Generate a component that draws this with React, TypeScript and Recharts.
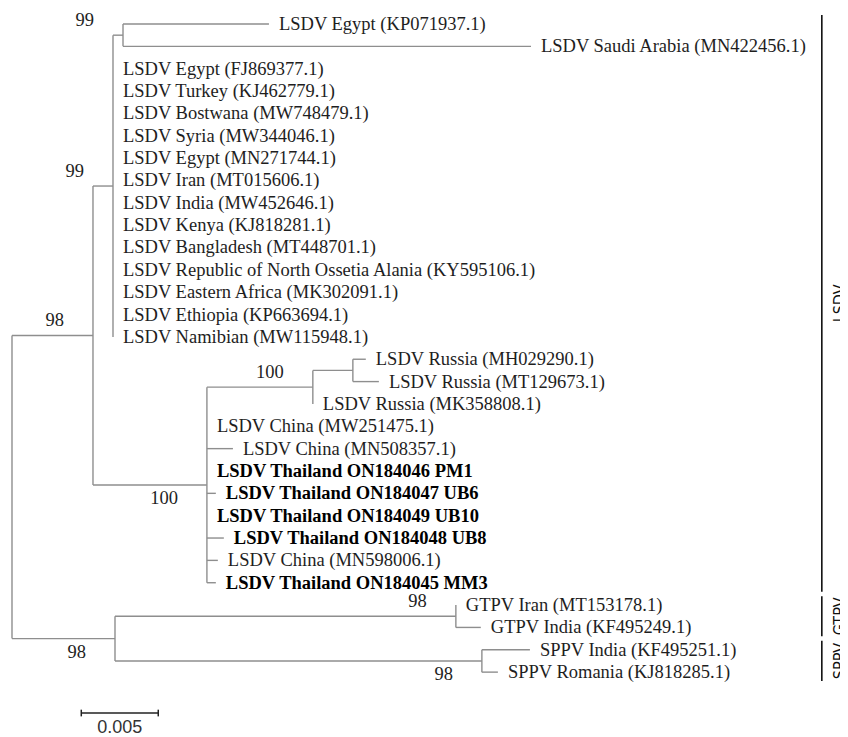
import React from 'react';
import { ScatterChart, Scatter, XAxis, YAxis, ReferenceLine } from 'recharts';

// leaf order, top to bottom
const taxa = [
  'LSDV Egypt (KP071937.1)',
  'LSDV Saudi Arabia (MN422456.1)',
  'LSDV Egypt (FJ869377.1)',
  'LSDV Turkey (KJ462779.1)',
  'LSDV Bostwana (MW748479.1)',
  'LSDV Syria (MW344046.1)',
  'LSDV Egypt (MN271744.1)',
  'LSDV Iran (MT015606.1)',
  'LSDV India (MW452646.1)',
  'LSDV Kenya (KJ818281.1)',
  'LSDV Bangladesh (MT448701.1)',
  'LSDV Republic of North Ossetia Alania (KY595106.1)',
  'LSDV Eastern Africa (MK302091.1)',
  'LSDV Ethiopia (KP663694.1)',
  'LSDV Namibian (MW115948.1)',
  'LSDV Russia (MH029290.1)',
  'LSDV Russia (MT129673.1)',
  'LSDV Russia (MK358808.1)',
  'LSDV China (MW251475.1)',
  'LSDV China (MN508357.1)',
  'LSDV Thailand ON184046 PM1',
  'LSDV Thailand ON184047 UB6',
  'LSDV Thailand ON184049 UB10',
  'LSDV Thailand ON184048 UB8',
  'LSDV China (MN598006.1)',
  'LSDV Thailand ON184045 MM3',
  'GTPV Iran (MT153178.1)',
  'GTPV India (KF495249.1)',
  'SPPV India (KF495251.1)',
  'SPPV Romania (KJ818285.1)',
];

const taxonParent = [
  'egyptSaudi', 'egyptSaudi',
  'lsdvA', 'lsdvA', 'lsdvA', 'lsdvA', 'lsdvA', 'lsdvA', 'lsdvA',
  'lsdvA', 'lsdvA', 'lsdvA', 'lsdvA', 'lsdvA', 'lsdvA',
  'russia2', 'russia2', 'russia',
  'lsdvB', 'lsdvB', 'lsdvB', 'lsdvB', 'lsdvB', 'lsdvB', 'lsdvB', 'lsdvB',
  'gtpv', 'gtpv', 'sppv', 'sppv',
];

const taxonLength = [
  0.00948, 0.0265,
  0, 0, 0, 0, 0, 0, 0, 0, 0, 0, 0, 0, 0,
  0.00084, 0.00169, 0,
  0, 0.00169, 0, 0.00058, 0, 0.0011, 0.00071, 0.00058,
  0, 0.00162, 0.00312, 0.00104,
];

const studyIsolates = [
  'LSDV Thailand ON184046 PM1',
  'LSDV Thailand ON184047 UB6',
  'LSDV Thailand ON184049 UB10',
  'LSDV Thailand ON184048 UB8',
  'LSDV Thailand ON184045 MM3',
];

// internal nodes, parents listed before children
const nodes = [
  { id: 'root', parent: '', length: 0, support: 0 },
  { id: 'lsdv', parent: 'root', length: 0.00526, support: 98 },
  { id: 'lsdvA', parent: 'lsdv', length: 0.0013, support: 99 },
  { id: 'egyptSaudi', parent: 'lsdvA', length: 0.00065, support: 99 },
  { id: 'lsdvB', parent: 'lsdv', length: 0.0074, support: 100 },
  { id: 'russia', parent: 'lsdvB', length: 0.00688, support: 100 },
  { id: 'russia2', parent: 'russia', length: 0.0026, support: 0 },
  { id: 'capri', parent: 'root', length: 0.00669, support: 98 },
  { id: 'gtpv', parent: 'capri', length: 0.02214, support: 98 },
  { id: 'sppv', parent: 'capri', length: 0.02383, support: 98 },
];

const cladeNames = ['LSDV', 'GTPV', 'SPPV'];
const cladeFirst = [0, 26, 28];
const cladeLast = [25, 27, 29];

const scaleBarLength = 0.005;

// ---- layout from the tree ----
const nodeX: Record<string, number> = {};
nodes.forEach((n) => {
  nodeX[n.id] = n.parent ? nodeX[n.parent] + n.length : 0;
});

const childYs = (id: string): number[] => {
  const ys: number[] = [];
  nodes.forEach((n) => {
    if (n.parent === id) ys.push(nodeY(n.id));
  });
  taxonParent.forEach((p, i) => {
    if (p === id) ys.push(i);
  });
  return ys;
};
function nodeY(id: string): number {
  const ys = childYs(id);
  return (Math.min(...ys) + Math.max(...ys)) / 2;
}

const segments: { x1: number; y1: number; x2: number; y2: number }[] = [];
nodes.forEach((n) => {
  const y = nodeY(n.id);
  if (n.parent) segments.push({ x1: nodeX[n.parent], y1: y, x2: nodeX[n.id], y2: y });
  const ys = childYs(n.id);
  segments.push({ x1: nodeX[n.id], y1: Math.min(...ys), x2: nodeX[n.id], y2: Math.max(...ys) });
});

const leafPoints = taxa.map((label, i) => ({
  x: nodeX[taxonParent[i]] + taxonLength[i],
  y: i,
  label,
  bold: studyIsolates.includes(label),
}));
leafPoints.forEach((p, i) => {
  if (taxonLength[i] > 0) segments.push({ x1: nodeX[taxonParent[i]], y1: i, x2: p.x, y2: i });
});

const supportPoints = nodes
  .filter((n) => n.support > 0)
  .map((n) => {
    const siblings = nodes.filter((s) => s.parent === n.parent);
    const below = siblings.length > 1 && siblings[siblings.length - 1].id === n.id;
    return { x: nodeX[n.id], y: nodeY(n.id), support: n.support, below };
  });

const cladeBarX = 0.0526;
const cladePoints = cladeNames.map((name, i) => ({
  x: cladeBarX,
  y: (cladeFirst[i] + cladeLast[i]) / 2,
  name,
}));

const scaleBarX = 0.0045;
const scaleBarY = 30.83;

const serif = '"Liberation Serif", "Times New Roman", serif';
const branchColor = '#8e8e8e';

const LeafLabel = (props: any) => {
  const { cx, cy, payload } = props;
  return (
    <text
      x={cx + 10}
      y={cy + 6}
      fontFamily={serif}
      fontSize={18.5}
      fontWeight={payload.bold ? 'bold' : 'normal'}
      fill={payload.bold ? '#000' : '#1e1e1e'}
    >
      {payload.label}
    </text>
  );
};

const SupportLabel = (props: any) => {
  const { cx, cy, payload } = props;
  return (
    <text x={cx - 29} y={cy + (payload.below ? 19 : -9)} textAnchor="end" fontFamily={serif} fontSize={18.5} fill="#1e1e1e">
      {payload.support}
    </text>
  );
};

const CladeLabel = (props: any) => {
  const { cx, cy, payload } = props;
  const x = cx + 18;
  return (
    <text
      x={x}
      y={cy}
      transform={`rotate(-90, ${x}, ${cy})`}
      textAnchor="middle"
      dominantBaseline="central"
      fontFamily='"Liberation Sans Narrow", "DejaVu Sans Condensed", "Liberation Sans", sans-serif'
      fontSize={16}
      fill="#111"
    >
      {payload.name}
    </text>
  );
};

const ScaleLabel = (props: any) => {
  const { cx, cy } = props;
  return (
    <text x={cx} y={cy + 20} textAnchor="middle" fontFamily='"Liberation Sans", Arial, sans-serif' fontSize={18} fill="#333">
      {String(scaleBarLength)}
    </text>
  );
};

export default function App() {
  return (
    <ScatterChart width={840} height={729} margin={{ top: 16, right: 0, left: 4, bottom: 9 }}>
      <XAxis type="number" dataKey="x" domain={[0, 0.0543]} hide />
      <YAxis type="number" dataKey="y" domain={[0, 31.5]} reversed hide />
      {segments.map((s, i) => (
        <ReferenceLine
          key={`b${i}`}
          segment={[{ x: s.x1, y: s.y1 }, { x: s.x2, y: s.y2 }]}
          stroke={branchColor}
          strokeWidth={1.4}
          ifOverflow="visible"
        />
      ))}
      {cladeNames.map((name, i) => (
        <ReferenceLine
          key={name}
          segment={[{ x: cladeBarX, y: cladeFirst[i] - 0.4 }, { x: cladeBarX, y: cladeLast[i] + 0.4 }]}
          stroke="#111"
          strokeWidth={1.6}
          ifOverflow="visible"
        />
      ))}
      <ReferenceLine
        segment={[{ x: scaleBarX, y: scaleBarY }, { x: scaleBarX + scaleBarLength, y: scaleBarY }]}
        stroke="#222"
        strokeWidth={1.5}
        ifOverflow="visible"
      />
      {[scaleBarX, scaleBarX + scaleBarLength].map((x) => (
        <ReferenceLine
          key={`t${x}`}
          segment={[{ x, y: scaleBarY - 0.15 }, { x, y: scaleBarY + 0.15 }]}
          stroke="#222"
          strokeWidth={1.5}
          ifOverflow="visible"
        />
      ))}
      <Scatter data={leafPoints} shape={LeafLabel} isAnimationActive={false} />
      <Scatter data={supportPoints} shape={SupportLabel} isAnimationActive={false} />
      <Scatter data={cladePoints} shape={CladeLabel} isAnimationActive={false} />
      <Scatter data={[{ x: scaleBarX + scaleBarLength / 2, y: scaleBarY }]} shape={ScaleLabel} isAnimationActive={false} />
    </ScatterChart>
  );
}
